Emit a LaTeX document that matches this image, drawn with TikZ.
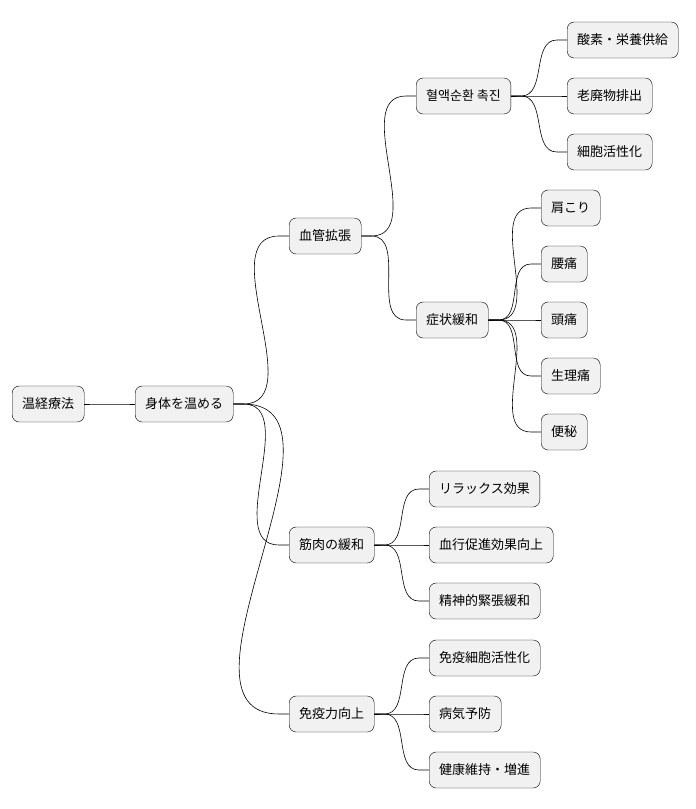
\documentclass[tikz,border=0pt]{standalone}
\usepackage{fontspec}
\setmainfont{Noto Sans CJK JP}
\usetikzlibrary{positioning}
\definecolor{nodegray}{HTML}{F1F1F1}

\begin{document}
\begin{tikzpicture}[
  x=1pt, y=-1pt,
  topic/.style={draw, rounded corners=7pt, fill=nodegray, anchor=west,
                minimum height=36pt, inner xsep=10pt, font=\fontsize{13}{15}\selectfont},
  branch/.style={line width=0.6pt},
]
  \useasboundingbox (0,0) rectangle (696,809);
  % root
  \node[topic] (root) at (12,404) {温経療法};
  \node[topic] (warm) at (135,404) {身体を温める};
  % level 2
  \node[topic] (vaso) at (289,236) {血管拡張};
  \node[topic] (muscle) at (289,545) {筋肉の緩和};
  \node[topic] (immune) at (289,714) {免疫力向上};
  % level 3
  \node[topic] (blood) at (416,96) {혈액순환 촉진};
  \node[topic] (relief) at (416,320) {症状緩和};
  \node[topic] (relax) at (429,489) {リラックス効果};
  \node[topic] (circ) at (429,545) {血行促進効果向上};
  \node[topic] (mental) at (429,601) {精神的緊張緩和};
  \node[topic] (cells) at (429,658) {免疫細胞活性化};
  \node[topic] (prevent) at (429,714) {病気予防};
  \node[topic] (health) at (429,770) {健康維持・増進};
  % level 4
  \node[topic] (oxygen) at (567,40) {酸素・栄養供給};
  \node[topic] (waste) at (567,96) {老廃物排出};
  \node[topic] (activ) at (567,152) {細胞活性化};
  \node[topic] (shoulder) at (541,208) {肩こり};
  \node[topic] (back) at (541,264) {腰痛};
  \node[topic] (head) at (541,320) {頭痛};
  \node[topic] (period) at (541,376) {生理痛};
  \node[topic] (constip) at (541,432) {便秘};
  % branches
  \foreach \p/\c in {root/warm, warm/vaso, warm/muscle, warm/immune,
                     vaso/blood, vaso/relief, blood/oxygen, blood/waste, blood/activ,
                     relief/shoulder, relief/back, relief/head, relief/period, relief/constip,
                     muscle/relax, muscle/circ, muscle/mental,
                     immune/cells, immune/prevent, immune/health}
    \draw[branch] (\p.east) -- ++(10,0) to[out=0, in=180] ([xshift=-10pt]\c.west) -- (\c.west);
\end{tikzpicture}
\end{document}
